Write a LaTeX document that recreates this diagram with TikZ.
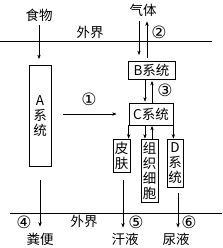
\documentclass[tikz,border=0pt]{standalone}
\usepackage{fontspec}
\setmainfont{Noto Sans CJK SC}
\newfontfamily\numfont{DejaVu Sans}
\usetikzlibrary{arrows.meta}
\begin{document}
\begin{tikzpicture}[x=1pt,y=-1pt,
  box/.style={draw, line width=0.7pt, inner sep=0pt, align=center, font=\fontsize{13.5}{15}\selectfont},
  lbl/.style={inner sep=0pt, font=\fontsize{13.5}{15}\selectfont},
  num/.style={inner sep=0pt, font=\numfont\fontsize{17}{17}\selectfont},
  arr/.style={-{Stealth[length=4.5pt,width=3.4pt]}, line width=0.6pt},
  ln/.style={line width=0.7pt}]
\useasboundingbox (0,0) rectangle (222,248);
% boundary lines
\coordinate (t1) at (0,41.5);
\coordinate (t2) at (212,41.5);
\coordinate (b1) at (10,213);
\coordinate (b2) at (222,213);
\draw[ln] (t1) -- (t2);
\draw[ln] (b1) -- (b2);
% labels
\node[lbl] (food) at (39,15) {食物};
\node[lbl] (gas) at (143,10) {气体};
\node[lbl] (out1) at (90,32) {外界};
\node[lbl] (out2) at (84,221) {外界};
\node[lbl] (feces) at (40,239) {粪便};
\node[lbl] (sweat) at (125,239) {汗液};
\node[lbl] (urine) at (176,239) {尿液};
% boxes
\node[box, minimum width=22pt, minimum height=101pt] (A) at (40,116) {A\\系\\统};
\node[box, minimum width=47pt, minimum height=18pt] (B) at (151.5,70.5) {B系统};
\node[box, minimum width=44pt, minimum height=22pt] (C) at (151,114) {C系统};
\node[box, minimum width=17pt, minimum height=33pt] (skin) at (121.5,155.5) {皮\\肤};
\node[box, minimum width=17pt, minimum height=63pt] (tissue) at (149.5,170.5) {组\\织\\细\\胞};
\node[box, minimum width=16pt, minimum height=48pt] (D) at (175,163) {D\\系\\统};
% circled numbers
\node[num] (n1) at (89,99) {①};
\node[num] (n2) at (159,32) {②};
\node[num] (n3) at (165,90) {③};
\node[num] (n4) at (24,222) {④};
\node[num] (n5) at (136,222) {⑤};
\node[num] (n6) at (189,222) {⑥};
% arrows
\draw[arr, shorten <=4pt, shorten >=6pt] (food.south) -- (food.south |- A.north);
\draw[arr, shorten <=5pt, shorten >=6pt] ([xshift=-4pt]gas.south) -- ([xshift=-12.5pt]B.north);
\draw[arr, shorten <=3.5pt, shorten >=5pt] ([xshift=-4.5pt]B.north) -- ([xshift=4pt]gas.south);
\draw[arr, shorten >=1pt] ([xshift=-6.5pt]B.south) -- ([xshift=-6pt]C.north);
\draw[arr, shorten >=1pt] ([xshift=1pt]C.north) -- ([xshift=0.5pt]B.south);
\draw[arr, shorten <=12pt, shorten >=12pt] (A.east |- C.west) -- (C.west);
\draw[arr] (C.south west) -- (C.south west |- skin.north);
\draw[arr] ([xshift=-6pt]C.south) -- ([xshift=-4.5pt]tissue.north);
\draw[arr, shorten >=0.5pt] ([xshift=2.5pt]tissue.north) -- ([xshift=1pt]C.south);
\draw[arr] (C.south east) -- (C.south east |- D.north);
\draw[arr, shorten <=13pt, shorten >=6pt] (A.south) -- (A.south |- feces.north);
\draw[arr, shorten <=8pt, shorten >=5pt] ([xshift=1.5pt]skin.south) -- ([xshift=1.5pt]skin.south |- sweat.north);
\draw[arr, shorten <=6pt, shorten >=5pt] ([xshift=3pt]D.south) -- ([xshift=3pt]D.south |- urine.north);
\end{tikzpicture}
\end{document}
